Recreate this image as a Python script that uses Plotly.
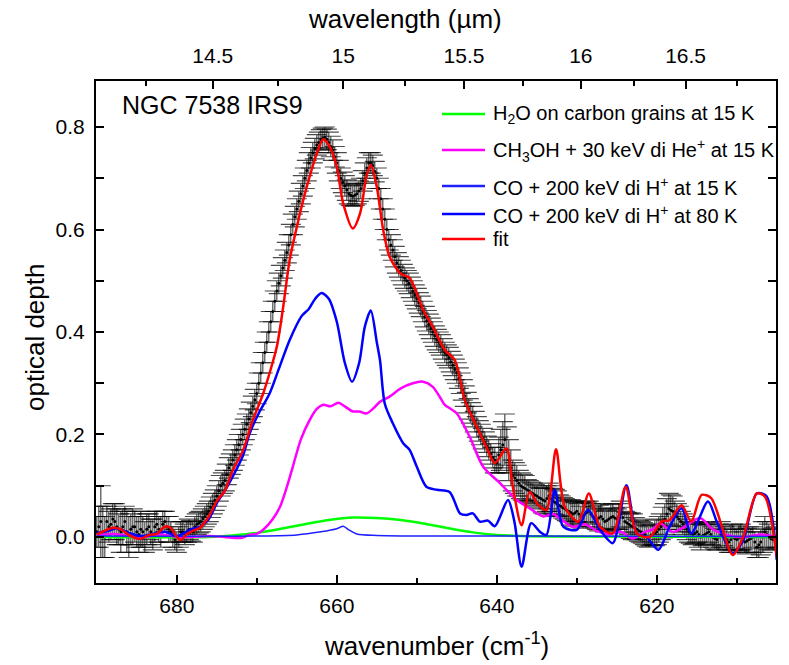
import plotly.graph_objects as go

# ---------------- observed data, set A (wavenumber, optical depth, error) ----------------
obs_wn = [690.0, 689.5, 689.0, 688.5, 688.0, 687.5, 687.0, 686.5, 686.0, 685.5, 685.0, 684.5,
          684.0, 683.5, 683.0, 682.5, 682.0, 681.5, 681.0, 680.5, 680.0, 679.5, 679.0, 678.5,
          678.0, 677.5, 677.0, 676.5, 676.0, 675.5, 675.0, 674.5, 674.0, 673.5, 673.0, 672.5,
          672.0, 671.5, 671.0, 670.5, 670.0, 669.5, 669.0, 668.5, 668.0, 667.5, 667.0, 666.5,
          666.0, 665.5, 665.0, 664.5, 664.0, 663.5, 663.0, 662.5, 662.0, 661.5, 661.0, 660.5,
          660.0, 659.5, 659.0, 658.5, 658.0, 657.5, 657.0, 656.5, 656.0, 655.5, 655.0, 654.5,
          654.0, 653.5, 653.0, 652.5, 652.0, 651.5, 651.0, 650.5, 650.0, 649.5, 649.0, 648.5,
          648.0, 647.5, 647.0, 646.5, 646.0, 645.5, 645.0, 644.5, 644.0, 643.5, 643.0, 642.5,
          642.0, 641.5, 641.0, 640.5, 640.0, 639.5, 639.0, 638.5, 638.0, 637.5, 637.0, 636.5,
          636.0, 635.5, 635.0, 634.5, 634.0, 633.5, 633.0, 632.5, 632.0, 631.5, 631.0, 630.5,
          630.0, 629.5, 629.0, 628.5, 628.0, 627.5, 627.0, 626.5, 626.0, 625.5, 625.0, 624.5,
          624.0, 623.5, 623.0, 622.5, 622.0, 621.5, 621.0, 620.5, 620.0, 619.5, 619.0, 618.5,
          618.0, 617.5, 617.0, 616.5, 616.0, 615.5, 615.0, 614.5, 614.0, 613.5, 613.0, 612.5,
          612.0, 611.5, 611.0, 610.5, 610.0, 609.5, 609.0, 608.5, 608.0, 607.5, 607.0, 606.5,
          606.0, 605.5, 605.0]
obs_tau = [0.010, 0.030, 0.000, 0.020, 0.035, 0.020, 0.010, 0.030, 0.000, 0.020, 0.010, 0.015,
           0.000, 0.020, 0.005, 0.025, 0.010, 0.030, 0.015, 0.000, -0.010, 0.010, 0.005, 0.015,
           0.010, 0.025, 0.030, 0.040, 0.050, 0.065, 0.080, 0.100, 0.110, 0.135, 0.150, 0.170,
           0.190, 0.210, 0.230, 0.255, 0.280, 0.320, 0.360, 0.400, 0.440, 0.480, 0.510, 0.540,
           0.570, 0.610, 0.640, 0.670, 0.700, 0.730, 0.750, 0.765, 0.775, 0.780, 0.770, 0.755,
           0.730, 0.700, 0.685, 0.670, 0.665, 0.670, 0.680, 0.710, 0.730, 0.725, 0.700, 0.660,
           0.620, 0.580, 0.560, 0.535, 0.520, 0.505, 0.495, 0.480, 0.465, 0.450, 0.430, 0.415,
           0.400, 0.385, 0.375, 0.360, 0.350, 0.335, 0.320, 0.300, 0.275, 0.250, 0.235, 0.215,
           0.200, 0.185, 0.170, 0.155, 0.145, 0.170, 0.190, 0.150, 0.120, 0.110, 0.100, 0.095,
           0.090, 0.085, 0.080, 0.075, 0.070, 0.080, 0.070, 0.065, 0.060, 0.055, 0.050, 0.045,
           0.050, 0.040, 0.045, 0.050, 0.040, 0.035, 0.040, 0.030, 0.035, 0.040, 0.035, 0.045,
           0.030, 0.025, 0.020, 0.015, 0.010, 0.005, 0.000, 0.005, 0.010, 0.020, 0.035, 0.055,
           0.050, 0.040, 0.030, 0.020, 0.010, 0.005, 0.010, 0.000, 0.005, 0.010, 0.000, -0.005,
           0.005, 0.000, -0.010, 0.000, -0.005, 0.000, -0.010, -0.005, 0.000, -0.020, -0.010, 0.010,
           0.000, -0.005, 0.000]
obs_err = [0.030, 0.070, 0.040, 0.030, 0.030, 0.035, 0.040, 0.030, 0.040, 0.035, 0.030, 0.035,
           0.030, 0.025, 0.030, 0.025, 0.030, 0.020, 0.025, 0.020, 0.020, 0.020, 0.020, 0.020,
           0.020, 0.020, 0.020, 0.020, 0.020, 0.020, 0.020, 0.020, 0.020, 0.020, 0.020, 0.020,
           0.020, 0.020, 0.020, 0.020, 0.020, 0.020, 0.020, 0.020, 0.020, 0.020, 0.020, 0.020,
           0.020, 0.020, 0.020, 0.020, 0.020, 0.020, 0.020, 0.020, 0.020, 0.020, 0.020, 0.020,
           0.020, 0.020, 0.020, 0.020, 0.020, 0.020, 0.020, 0.020, 0.020, 0.020, 0.020, 0.020,
           0.020, 0.020, 0.020, 0.020, 0.020, 0.020, 0.020, 0.020, 0.020, 0.020, 0.020, 0.020,
           0.020, 0.020, 0.020, 0.020, 0.020, 0.020, 0.020, 0.020, 0.020, 0.020, 0.020, 0.020,
           0.020, 0.020, 0.020, 0.020, 0.020, 0.040, 0.050, 0.040, 0.030, 0.030, 0.025, 0.025,
           0.020, 0.020, 0.020, 0.020, 0.025, 0.025, 0.025, 0.025, 0.020, 0.020, 0.020, 0.025,
           0.020, 0.020, 0.025, 0.020, 0.020, 0.020, 0.025, 0.020, 0.020, 0.025, 0.020, 0.025,
           0.020, 0.020, 0.025, 0.020, 0.020, 0.020, 0.020, 0.020, 0.025, 0.025, 0.030, 0.030,
           0.030, 0.025, 0.020, 0.020, 0.020, 0.020, 0.020, 0.025, 0.020, 0.020, 0.020, 0.020,
           0.025, 0.020, 0.020, 0.025, 0.020, 0.025, 0.020, 0.025, 0.020, 0.020, 0.025, 0.030,
           0.025, 0.020, 0.020]

# ---------------- observed data, set B (interleaved samples 689.75 ... 605.25) ----------------
obs2_wn = [689.75 - 0.5 * i for i in range(170)]
obs2_tau = [0.020, 0.010, 0.030, 0.025, 0.030, 0.015, 0.020, 0.010, 0.015, 0.020, 0.005, 0.010,
            0.015, 0.010, 0.020, 0.015, 0.025, 0.020, 0.010, -0.005, 0.000, 0.010, 0.010, 0.012,
            0.020, 0.028, 0.035, 0.045, 0.058, 0.072, 0.090, 0.105, 0.122, 0.142, 0.160, 0.180,
            0.200, 0.220, 0.243, 0.268, 0.300, 0.340, 0.380, 0.420, 0.460, 0.495, 0.525, 0.555,
            0.590, 0.625, 0.655, 0.685, 0.715, 0.740, 0.758, 0.770, 0.778, 0.776, 0.762, 0.742,
            0.715, 0.692, 0.677, 0.667, 0.667, 0.675, 0.695, 0.720, 0.730, 0.713, 0.680, 0.640,
            0.600, 0.570, 0.547, 0.527, 0.512, 0.500, 0.487, 0.472, 0.457, 0.440, 0.422, 0.407,
            0.392, 0.380, 0.367, 0.355, 0.342, 0.327, 0.310, 0.287, 0.262, 0.242, 0.225, 0.207,
            0.192, 0.177, 0.162, 0.150, 0.160, 0.180, 0.170, 0.135, 0.115, 0.105, 0.097, 0.092,
            0.087, 0.082, 0.077, 0.072, 0.075, 0.075, 0.068, 0.062, 0.057, 0.052, 0.048, 0.047,
            0.045, 0.042, 0.048, 0.045, 0.038, 0.037, 0.035, 0.032, 0.038, 0.037, 0.040, 0.038,
            0.028, 0.022, 0.018, 0.012, 0.008, 0.002, 0.003, 0.008, 0.015, 0.028, 0.045, 0.052,
            0.045, 0.035, 0.025, 0.015, 0.008, 0.007, 0.005, 0.003, 0.008, 0.005, -0.003, 0.000,
            0.003, -0.005, -0.005, -0.003, -0.002, -0.005, -0.008, -0.003, -0.010, -0.015, 0.000, 0.005,
            -0.003, -0.002]
obs2_err = [0.040, 0.050, 0.030, 0.030, 0.035, 0.030, 0.035, 0.040, 0.030, 0.030, 0.035, 0.030,
            0.030, 0.025, 0.030, 0.025, 0.025, 0.020, 0.020, 0.020, 0.020, 0.020, 0.020, 0.020,
            0.020, 0.020, 0.020, 0.020, 0.020, 0.020, 0.020, 0.020, 0.020, 0.020, 0.020, 0.020,
            0.020, 0.020, 0.020, 0.020, 0.020, 0.020, 0.020, 0.020, 0.020, 0.020, 0.020, 0.020,
            0.020, 0.020, 0.020, 0.020, 0.020, 0.020, 0.020, 0.020, 0.020, 0.020, 0.020, 0.020,
            0.020, 0.020, 0.020, 0.020, 0.020, 0.020, 0.020, 0.020, 0.020, 0.020, 0.020, 0.020,
            0.020, 0.020, 0.020, 0.020, 0.020, 0.020, 0.020, 0.020, 0.020, 0.020, 0.020, 0.020,
            0.020, 0.020, 0.020, 0.020, 0.020, 0.020, 0.020, 0.020, 0.020, 0.020, 0.020, 0.020,
            0.020, 0.020, 0.020, 0.025, 0.035, 0.045, 0.045, 0.035, 0.030, 0.025, 0.025, 0.020,
            0.020, 0.020, 0.020, 0.025, 0.025, 0.025, 0.025, 0.020, 0.020, 0.020, 0.025, 0.020,
            0.020, 0.025, 0.020, 0.020, 0.020, 0.025, 0.020, 0.020, 0.025, 0.020, 0.025, 0.020,
            0.020, 0.025, 0.020, 0.020, 0.020, 0.020, 0.020, 0.025, 0.025, 0.030, 0.030, 0.030,
            0.025, 0.025, 0.020, 0.020, 0.020, 0.020, 0.025, 0.020, 0.020, 0.020, 0.020, 0.025,
            0.020, 0.020, 0.025, 0.020, 0.025, 0.020, 0.025, 0.020, 0.020, 0.025, 0.030, 0.025,
            0.020, 0.020]

# ---------------- model components ----------------
h2o_wn = [690, 676, 673, 670, 667, 664, 661, 658, 655, 652, 649, 646, 643, 640, 637, 630, 605]
h2o_tau = [0.0, 0.0, 0.003, 0.008, 0.016, 0.025, 0.033, 0.038, 0.037, 0.033, 0.026, 0.017,
           0.009, 0.004, 0.002, 0.001, 0.0]

ch3oh_wn = [690, 688, 686, 684, 682, 680, 678, 676, 674, 672, 671, 670, 669.2, 668, 667.1,
            666.3, 665.5, 664.5, 663.4, 662.5, 661.7, 660.8, 659.8, 659, 658, 657.2, 656.3,
            655.5, 654.6, 653.4, 652, 650.5, 649.2, 648, 647, 646.5, 645, 643.4, 641.7, 639.6,
            637.5, 635.9, 634.2, 633, 632, 630.5, 629, 627.5, 626, 624.5, 623, 621.5, 620.5,
            619.6, 618, 616.5, 614.6, 613, 611, 609, 607, 605]
ch3oh_tau = [0.003, 0.006, 0.002, 0.0, 0.005, 0.0, 0.0, 0.002, 0.0, -0.002, 0.004, 0.006,
             0.014, 0.035, 0.059, 0.095, 0.137, 0.19, 0.228, 0.25, 0.258, 0.255, 0.262, 0.255,
             0.245, 0.245, 0.241, 0.25, 0.264, 0.274, 0.29, 0.30, 0.303, 0.293, 0.27, 0.258,
             0.241, 0.196, 0.137, 0.105, 0.072, 0.056, 0.04, 0.045, 0.035, 0.02, 0.025, 0.012,
             0.005, 0.01, -0.003, 0.01, 0.015, 0.027, 0.01, 0.02, 0.037, 0.015, 0.003, 0.0,
             0.005, 0.0]

co15_wn = [690, 670, 665, 662, 660, 659.2, 658.5, 657.5, 655, 640, 605]
co15_tau = [0.002, 0.002, 0.004, 0.010, 0.016, 0.021, 0.014, 0.006, 0.003, 0.002, 0.001]

co80_wn = [690, 688.5, 687.5, 686, 684.5, 683, 681.5, 680, 679, 678.4, 677.1, 676, 675, 674,
           673, 671.7, 670.9, 669.8, 668.4, 667.2, 665.9, 664.4, 663.5, 662.7, 661.9, 661,
           660, 659, 658.1, 657.2, 656.5, 655.75, 655, 654.6, 654, 653, 651.7, 650.9, 650,
           648.8, 647.5, 645.9, 644.6, 643.8, 643, 642.1, 641.1, 640.25, 638.6, 637.8, 636.9,
           635.7, 634.6, 633.8, 632.75, 631.7, 630, 628.6, 627.1, 625.5, 623.8, 622.5, 621.3,
           619.8, 618.4, 616.9, 615.7, 613.6, 612.5, 610.5, 609.2, 607.5, 606.3, 605]
co80_tau = [0.008, 0.012, 0.017, 0.008, 0.002, 0.006, 0.010, 0.002, 0.008, 0.014, 0.020,
            0.035, 0.066, 0.090, 0.118, 0.160, 0.202, 0.240, 0.280, 0.330, 0.384, 0.431,
            0.445, 0.465, 0.476, 0.465, 0.420, 0.340, 0.303, 0.340, 0.410, 0.442, 0.380,
            0.345, 0.260, 0.222, 0.183, 0.170, 0.137, 0.098, 0.092, 0.088, 0.046, 0.043,
            0.046, 0.030, 0.032, 0.021, 0.072, 0.030, -0.058, 0.027, 0.010, 0.004, 0.092,
            0.020, 0.014, 0.053, 0.014, -0.012, 0.101, 0.007, 0.0, -0.025, 0.020, 0.056,
            0.007, 0.069, 0.030, -0.032, -0.006, 0.085, 0.080, -0.045]

fit_wn = [690, 689, 688, 687, 686, 685, 684.4, 683.5, 682.5, 681.5, 680.8, 680, 679.5, 678.8,
          678, 677.1, 676, 675, 674, 673, 671.7, 670.5, 669.2, 668.4, 667.5, 666.7, 665.9,
          665, 664.2, 663.4, 662.5, 661.7, 660.9, 660, 659.2, 658, 657.1, 656.3, 655.75, 655,
          654.2, 653.4, 652.1, 650.9, 649.2, 648, 646.5, 645.25, 644, 642.5, 641.3, 640.25,
          638.8, 638, 636.9, 635.9, 634.8, 633.8, 632.6, 631.5, 629.8, 628.5, 627.1, 625.5,
          623.9, 622.5, 620.9, 619.4, 618.4, 616.9, 615.7, 614.4, 613.2, 610.5, 609.2, 607.5,
          606.5, 605]
fit_tau = [0.005, 0.012, 0.018, 0.015, 0.004, -0.003, -0.003, 0.004, 0.006, 0.020, 0.018,
           0.0, -0.006, 0.005, 0.012, 0.018, 0.040, 0.070, 0.090, 0.130, 0.170, 0.228, 0.280,
           0.320, 0.371, 0.449, 0.540, 0.605, 0.657, 0.703, 0.748, 0.776, 0.762, 0.722, 0.651,
           0.602, 0.631, 0.703, 0.726, 0.683, 0.599, 0.547, 0.515, 0.505, 0.443, 0.410, 0.365,
           0.345, 0.267, 0.215, 0.176, 0.144, 0.173, 0.098, 0.023, 0.088, 0.062, 0.053, 0.171,
           0.059, 0.030, 0.085, 0.020, 0.007, 0.098, 0.007, 0.0, 0.030, 0.033, 0.062, 0.030,
           0.082, 0.076, -0.035, 0.0, 0.085, 0.079, -0.038]

# ---------------- axis ticks ----------------
wn_ticks = [680, 660, 640, 620]
wn_minor = [670, 650, 630, 610]
lam_labels = ["14.5", "15", "15.5", "16", "16.5"]
lam_tick_pos = [675.5, 659.2, 644.1, 629.5, 616.4]
lam_minor_pos = [683.9, 667.4, 651.5, 636.75, 622.8, 610.0]

legend_names = ["H<sub>2</sub>O on carbon grains at 15 K",
                "CH<sub>3</sub>OH + 30 keV di He<sup>+</sup> at 15 K",
                "CO + 200 keV di H<sup>+</sup> at 15 K",
                "CO + 200 keV di H<sup>+</sup> at 80 K",
                "fit"]
colors = ["#00FF00", "#FF00FF", "#2020FF", "#0000FF", "#FF0000"]
widths = [2.5, 2.5, 1.5, 2.5, 2.5]

FONT = "Liberation Sans, Arial, sans-serif"
XR = [690.1, 605.1]
YR = [-0.0898, 0.8898]

fig = go.Figure()

all_wn = obs_wn + obs2_wn
all_tau = obs_tau + obs2_tau
all_err = obs_err + obs2_err
fig.add_trace(go.Scatter(
    x=all_wn, y=all_tau, mode="markers",
    marker=dict(color="black", size=3),
    error_y=dict(type="data", array=all_err, color="rgba(0,0,0,0.7)", thickness=1.2,
                 width=10),
    showlegend=False, hoverinfo="x+y"))

series = [(h2o_wn, h2o_tau), (ch3oh_wn, ch3oh_tau), (co15_wn, co15_tau),
          (co80_wn, co80_tau), (fit_wn, fit_tau)]
for (xs, ys), name, c, w in zip(series, legend_names, colors, widths):
    fig.add_trace(go.Scatter(x=xs, y=ys, mode="lines", name=name,
                             line=dict(color=c, width=w, shape="spline", smoothing=0.8),
                             showlegend=False))

# invisible trace carrying the top (wavelength) axis
fig.add_trace(go.Scatter(x=fit_wn, y=fit_tau, xaxis="x2", mode="lines",
                         line=dict(width=0), opacity=0, showlegend=False, hoverinfo="skip"))

# ---------------- manual legend ----------------
L, T, B, R = 96, 81, 583, 776
W, H = R - L, B - T
def px(xp):
    return (xp - L) / W
def py(yp):
    return (B - yp) / H

leg_y = [114, 150, 186, 214, 239]
for name, c, yy, w in zip(legend_names, colors, leg_y, widths):
    fig.add_shape(type="line", xref="paper", yref="paper",
                  x0=px(442), x1=px(485), y0=py(yy), y1=py(yy),
                  line=dict(color=c, width=2.5))
    fig.add_annotation(xref="paper", yref="paper", x=px(491), y=py(yy),
                       text=name, showarrow=False, xanchor="left", yanchor="middle",
                       font=dict(family=FONT, size=20, color="black"))

fig.add_annotation(xref="paper", yref="paper", x=px(120), y=py(105), text="NGC 7538 IRS9",
                   showarrow=False, xanchor="left", yanchor="middle",
                   font=dict(family=FONT, size=25, color="black"))

# axis titles
fig.add_annotation(xref="paper", yref="paper", x=0.5, y=py(663),
                   text="wavenumber (cm<sup>-1</sup>)", showarrow=False,
                   xanchor="center", yanchor="bottom",
                   font=dict(family=FONT, size=26, color="black"))
fig.add_annotation(xref="paper", yref="paper", x=px(405), y=py(19),
                   text="wavelength (µm)", showarrow=False,
                   xanchor="center", yanchor="middle",
                   font=dict(family=FONT, size=26, color="black"))
fig.add_annotation(xref="paper", yref="paper", x=px(35), y=py(338),
                   text="optical depth", showarrow=False, textangle=-90,
                   xanchor="center", yanchor="middle",
                   font=dict(family=FONT, size=26, color="black"))

axis_common = dict(showgrid=False, zeroline=False, showline=True, linecolor="black",
                   linewidth=2, ticks="inside", tickcolor="black", tickwidth=2, ticklen=8,
                   tickfont=dict(family=FONT, size=21, color="black"))

fig.update_layout(
    width=789, height=665,
    margin=dict(l=L, r=789 - R, t=T, b=665 - B),
    paper_bgcolor="white", plot_bgcolor="white",
    showlegend=False,
    xaxis=dict(range=XR, tickmode="array", tickvals=wn_ticks, ticktext=[str(v) for v in wn_ticks],
               mirror=False, ticklabelstandoff=3,
               minor=dict(tickmode="array", tickvals=wn_minor, ticks="inside", ticklen=5,
                          tickwidth=2, tickcolor="black"),
               **axis_common),
    xaxis2=dict(range=XR, overlaying="x", side="top", anchor="y", tickmode="array",
                tickvals=lam_tick_pos, ticktext=lam_labels, ticklabelstandoff=8,
                minor=dict(tickmode="array", tickvals=lam_minor_pos, ticks="inside", ticklen=5,
                           tickwidth=2, tickcolor="black"),
                **axis_common),
    yaxis=dict(range=YR, tickmode="array", tickvals=[0, 0.2, 0.4, 0.6, 0.8],
               ticktext=["0.0", "0.2", "0.4", "0.6", "0.8"], mirror="allticks",
               ticklabelstandoff=5,
               minor=dict(tickmode="array", tickvals=[0.1, 0.3, 0.5, 0.7], ticks="inside",
                          ticklen=5, tickwidth=2, tickcolor="black"),
               **axis_common),
)

fig.write_html("out.html", config={"displayModeBar": False},
               post_script="document.body.style.margin='0';document.body.style.overflow='hidden';")
